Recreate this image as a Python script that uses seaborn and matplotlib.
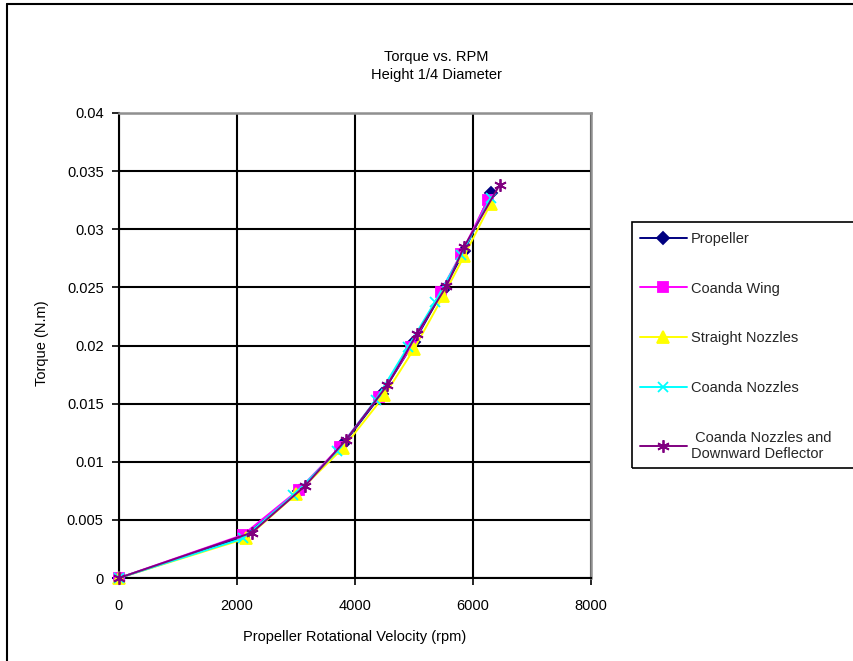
import matplotlib
matplotlib.use("Agg")
import matplotlib.pyplot as plt
from matplotlib.lines import Line2D
from matplotlib.patches import Rectangle
import seaborn as sns
import pandas as pd

# Measured torque for each configuration, height = 1/4 diameter
series_names = [
    "Propeller",
    "Coanda Wing",
    "Straight Nozzles",
    "Coanda Nozzles",
    " Coanda Nozzles and\nDownward Deflector",
]
rpm_propeller = [0, 2100, 3050, 3800, 4450, 5000, 5500, 5850, 6300]
torque_propeller = [0, 0.0035, 0.0075, 0.0115, 0.0158, 0.0203, 0.0248, 0.0281, 0.0331]
rpm_wing = [0, 2100, 3050, 3750, 4400, 4950, 5450, 5800, 6250]
torque_wing = [0, 0.0037, 0.0076, 0.0113, 0.0156, 0.0199, 0.0246, 0.0279, 0.0325]
rpm_straight = [0, 2150, 3000, 3800, 4500, 5000, 5500, 5850, 6300]
torque_straight = [0, 0.0034, 0.0072, 0.0112, 0.0157, 0.0197, 0.0243, 0.0277, 0.0322]
rpm_coanda = [0, 2100, 2950, 3700, 4350, 4900, 5350, 5800, 6300]
torque_coanda = [0, 0.0034, 0.0071, 0.0109, 0.0153, 0.0199, 0.0237, 0.0278, 0.0327]
rpm_deflector = [0, 2250, 3150, 3850, 4550, 5050, 5550, 5850, 6450]
torque_deflector = [0, 0.0039, 0.0079, 0.0119, 0.0166, 0.0210, 0.0251, 0.0285, 0.0338]

x_ticks = [0, 2000, 4000, 6000, 8000]
y_ticks = [0, 0.005, 0.01, 0.015, 0.02, 0.025, 0.03, 0.035, 0.04]
y_tick_labels = ["0", "0.005", "0.01", "0.015", "0.02", "0.025", "0.03", "0.035", "0.04"]

colors = ["#000080", "#FF00FF", "#FFFF00", "#00FFFF", "#800080"]
markers = ["D", "s", "^", "x", (6, 2, 0)]
marker_sizes = [6, 7, 8, 7, 9]

frames = []
for name, xs, ys in zip(
    series_names,
    [rpm_propeller, rpm_wing, rpm_straight, rpm_coanda, rpm_deflector],
    [torque_propeller, torque_wing, torque_straight, torque_coanda, torque_deflector],
):
    frames.append(pd.DataFrame({"rpm": xs, "torque": ys, "series": name}))
data = pd.concat(frames, ignore_index=True)

sns.set_theme(style="white")
plt.rcParams["font.family"] = ["Liberation Sans", "DejaVu Sans"]

fig = plt.figure(figsize=(8.54, 6.61), dpi=100)
ax = fig.add_axes([119 / 854, 1 - 578 / 661, (591 - 119) / 854, (578 - 113) / 661])

for i, name in enumerate(series_names):
    sub = data[data["series"] == name]
    sns.lineplot(
        data=sub, x="rpm", y="torque", ax=ax, color=colors[i],
        marker=markers[i], markersize=marker_sizes[i],
        markeredgecolor=colors[i], markerfacecolor=colors[i],
        markeredgewidth=1.3, linewidth=1.4, sort=False,
        estimator=None, legend=False, zorder=3 + i, clip_on=False,
    )

ax.set_xlim(0, 8000)
ax.set_ylim(0, 0.04)
ax.set_xticks(x_ticks)
ax.set_xticklabels([str(v) for v in x_ticks])
ax.set_yticks(y_ticks)
ax.set_yticklabels(y_tick_labels)
ax.grid(True, color="#000000", linewidth=1.5)
ax.set_facecolor("white")

for side in ["left", "bottom"]:
    ax.spines[side].set_color("#000000")
    ax.spines[side].set_linewidth(1.5)
for side in ["top", "right"]:
    ax.spines[side].set_color("#909090")
    ax.spines[side].set_linewidth(1.8)

ax.tick_params(axis="both", which="major", direction="out", length=5, width=1.2,
               color="#000000", labelsize=10.5, labelcolor="#000000",
               bottom=True, left=True, pad=6)
ax.tick_params(axis="x", pad=10)

ax.set_xlabel("Propeller Rotational Velocity (rpm)", fontsize=10.5, color="#000000", labelpad=8)
ax.set_ylabel("Torque (N.m)", fontsize=10.5, color="#000000", labelpad=8)
ax.xaxis.set_label_coords(0.5, -0.112)
ax.yaxis.set_label_coords(-0.148, 0.505)

fig.text(436 / 854, 1 - 66 / 661, "Torque vs. RPM\nHeight 1/4 Diameter",
         ha="center", va="center", fontsize=10.5, color="#000000", linespacing=1.35)

# Legend with a frame running off the right edge
handles = [
    Line2D([0], [0], color=colors[i], marker=markers[i], markersize=marker_sizes[i],
           markerfacecolor=colors[i], markeredgecolor=colors[i], markeredgewidth=1.3,
           linewidth=1.4)
    for i in range(len(series_names))
]
leg = fig.legend(handles, series_names, loc="upper left",
                 bbox_to_anchor=(634 / 854, 1 - 226 / 661), frameon=False,
                 fontsize=10.5, handlelength=3.2, handletextpad=0.3,
                 labelspacing=2.45, borderaxespad=0)
fig.patches.append(Rectangle((632 / 854, 1 - 468 / 661), 0.3, (468 - 222) / 661,
                             transform=fig.transFigure, fill=False,
                             edgecolor="#000000", linewidth=1.2))

# Outer chart-area border (left and top edges)
fig.add_artist(Line2D([7.5 / 854, 7.5 / 854], [0, 1 - 3.5 / 661],
                      transform=fig.transFigure, color="#000000", linewidth=1.5))
fig.add_artist(Line2D([7.5 / 854, 1], [1 - 3.5 / 661, 1 - 3.5 / 661],
                      transform=fig.transFigure, color="#000000", linewidth=1.5))

fig.savefig("out.png", dpi=100, facecolor="white")
